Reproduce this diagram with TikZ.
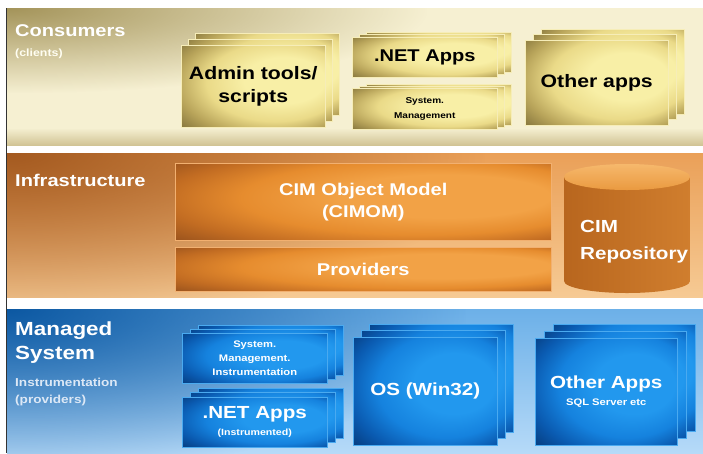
\documentclass[tikz,border=0pt]{standalone}
\usepackage{fontspec}
\setmainfont{Liberation Sans}[FakeStretch=1.18]
\usetikzlibrary{fadings}

% palette
\definecolor{yA}{HTML}{F8EFA6}
\definecolor{yB}{HTML}{EADA88}
\definecolor{yC}{HTML}{B8A45A}
\definecolor{yD}{HTML}{6E5F2E}
\definecolor{yEdge}{HTML}{F6EDB8}
\definecolor{bA}{HTML}{2298EE}
\definecolor{bB}{HTML}{1582DE}
\definecolor{bC}{HTML}{0A5AB0}
\definecolor{bD}{HTML}{042E66}
\definecolor{bEdge}{HTML}{4AAAF0}
\definecolor{oA}{HTML}{F2A246}
\definecolor{oB}{HTML}{E68C2E}
\definecolor{oC}{HTML}{C26C22}
\definecolor{oD}{HTML}{86461A}
\definecolor{oEdge}{HTML}{F2B070}
\definecolor{consBase}{HTML}{F6F0D2}
\definecolor{consDark}{HTML}{A4945A}
\definecolor{consLine}{HTML}{C6B682}
\definecolor{infTop}{HTML}{EAA058}
\definecolor{infBot}{HTML}{F6CA94}
\definecolor{infDark}{HTML}{A45A20}
\definecolor{manTop}{HTML}{6CB0E8}
\definecolor{manBot}{HTML}{B6DAF8}
\definecolor{manDark}{HTML}{0C58A2}
\definecolor{cylL}{HTML}{B8661E}
\definecolor{cylM}{HTML}{F0A24C}
\definecolor{cylR}{HTML}{D07E2E}
\definecolor{cylT}{HTML}{F6B86C}
\definecolor{cylB}{HTML}{EA9A40}
\definecolor{subText}{HTML}{DCE8F6}

% box shadings: bright spot right of centre, dark towards the left and the upper left corner
\pgfdeclareradialshading{yellowbox}{\pgfpoint{15bp}{5bp}}{color(0bp)=(yA); color(14bp)=(yA); color(24bp)=(yB); color(32bp)=(yC); color(42bp)=(yD); color(50bp)=(yD)}
\pgfdeclareradialshading{bluebox}{\pgfpoint{14bp}{5bp}}{color(0bp)=(bA); color(14bp)=(bA); color(24bp)=(bB); color(32bp)=(bC); color(42bp)=(bD); color(50bp)=(bD)}
\pgfdeclareradialshading{orangebox}{\pgfpoint{15bp}{5bp}}{color(0bp)=(oA); color(14bp)=(oA); color(24bp)=(oB); color(32bp)=(oC); color(42bp)=(oD); color(50bp)=(oD)}

\tikzfading[name=fadeup, top color=transparent!100, bottom color=transparent!20]
\tikzfading[name=blob, inner color=transparent!0, outer color=transparent!100]

% two layers behind a front box: #1 style, #2 x1, #3 y1, #4 x2, #5 y2, #6 dx, #7 dy (upwards)
\newcommand{\backlayers}[7]{%
  \path[#1] ({#2+2*#6},{#3-2*#7}) rectangle ({#4+2*#6},{#5-2*#7});
  \path[#1] ({#2+#6},{#3-#7}) rectangle ({#4+#6},{#5-#7});
}
% darker glow in the upper left corner of a band: #1 colour, #2 top, #3 bottom, #4 half width, #5 half height
\newcommand{\cornerglow}[5]{%
  \begin{scope}
    \clip (7,#2) rectangle (703,#3);
    \fill[#1, path fading=blob] ({7-#4},{#2-#5}) rectangle ({7+#4},{#2+#5});
  \end{scope}
}

\begin{document}
\begin{tikzpicture}[x=1pt,y=-1pt,
  ybox/.style={shade, shading=yellowbox, draw=yEdge, line width=0.5pt},
  bbox/.style={shade, shading=bluebox, draw=bEdge, line width=0.5pt},
  obox/.style={shade, shading=orangebox, draw=oEdge, line width=0.5pt},
  boxtext/.style={inner sep=0pt, align=center, font=\bfseries},
  bandlbl/.style={inner sep=0pt, anchor=west, align=left, text=white, font=\bfseries},
]
\useasboundingbox (0,0) rectangle (703,453);
\fill[white] (0,0) rectangle (703,453);

% ---- three bands ----
\fill[consBase] (7,8) rectangle (703,146);
\cornerglow{consDark}{8}{146}{420}{85}
\fill[consLine, path fading=fadeup] (7,128) rectangle (703,146);

\path[shade, top color=infTop, bottom color=infBot] (7,153) rectangle (703,297);
\cornerglow{infDark}{153}{297}{480}{170}

\path[shade, top color=manTop, bottom color=manBot] (7,309) rectangle (703,453);
\cornerglow{manDark}{309}{453}{460}{165}

\draw[black!80, line width=0.9pt] (6.5,8) -- (6.5,453);

% ---- band titles ----
\node[bandlbl, font=\bfseries\fontsize{17}{20}\selectfont] (consumers) at (15,31) {Consumers};
\node[bandlbl, font=\bfseries\fontsize{10.5}{12}\selectfont, text=white!95!yellow] (clients) at (15,54) {(clients)};
\node[bandlbl, font=\bfseries\fontsize{17}{20}\selectfont] (infra) at (15,180) {Infrastructure};
\node[bandlbl, font=\bfseries\fontsize{19}{24}\selectfont] (managed) at (15,343) {Managed\\System};
\node[bandlbl, font=\bfseries\fontsize{11.5}{17}\selectfont, text=subText] (instr) at (15,392) {Instrumentation\\(providers)};

% ---- consumers ----
\backlayers{ybox}{181}{45}{325}{127}{7}{6}
\node[ybox, boxtext, anchor=north west, minimum width=144, minimum height=82,
  font=\bfseries\fontsize{18}{23}\selectfont] (admin) at (181,45) {Admin tools/\\scripts};

\backlayers{ybox}{352}{37}{497}{77}{7}{2.5}
\node[ybox, boxtext, anchor=north west, minimum width=145, minimum height=40,
  font=\bfseries\fontsize{17}{20}\selectfont] (netapps) at (352,37) {.NET Apps};

\backlayers{ybox}{352}{88}{497}{129}{7}{2}
\node[ybox, boxtext, anchor=north west, minimum width=145, minimum height=41,
  font=\bfseries\fontsize{8.5}{15}\selectfont] (sysmgmt) at (352,88) {System.\\Management};

\backlayers{ybox}{525}{40}{668}{125}{8}{5.5}
\node[ybox, boxtext, anchor=north west, minimum width=143, minimum height=85,
  font=\bfseries\fontsize{18}{22}\selectfont] (otherapps) at (525,40) {Other apps};

% ---- infrastructure ----
\node[obox, boxtext, anchor=north west, minimum width=376, minimum height=77, text=white,
  font=\bfseries\fontsize{17}{22}\selectfont] (cimom) at (175,163) {CIM Object Model\\(CIMOM)};
\node[obox, boxtext, anchor=north west, minimum width=376, minimum height=44, text=white,
  font=\bfseries\fontsize{17}{20}\selectfont] (providers) at (175,247) {Providers};

% repository cylinder
\path[shade, left color=cylL, middle color=cylM, right color=cylR]
  (564,177) -- (564,281) arc[start angle=180, end angle=0, x radius=63, y radius=12]
  -- (690,177) -- cycle;
\path[shade, top color=cylT, bottom color=cylB] (627,177) ellipse[x radius=63, y radius=13];
\node[boxtext, anchor=west, align=left, text=white,
  font=\bfseries\fontsize{17.5}{27}\selectfont] (repo) at (580,242) {CIM\\Repository};

% ---- managed system ----
\backlayers{bbox}{182}{333}{327}{383}{8}{4}
\node[bbox, boxtext, anchor=north west, minimum width=145, minimum height=50, text=white,
  font=\bfseries\fontsize{9.5}{14}\selectfont] (smi) at (182,333) {System.\\Management.\\Instrumentation};

\backlayers{bbox}{182}{397}{327}{447}{8}{4.5}
\node[bbox, boxtext, anchor=north west, minimum width=145, minimum height=50, text=white,
  font=\bfseries\fontsize{17.5}{18}\selectfont] (netinstr) at (182,397)
  {.NET Apps\\[-1pt]{\fontsize{9}{11}\selectfont (Instrumented)}};

\backlayers{bbox}{353}{337}{497}{445}{8}{6.5}
\node[bbox, boxtext, anchor=north west, minimum width=144, minimum height=108, text=white,
  font=\bfseries\fontsize{17.5}{20}\selectfont] (os) at (353,337) {OS (Win32)};

\backlayers{bbox}{535}{338}{677}{445}{9}{7}
\node[bbox, boxtext, anchor=north west, minimum width=142, minimum height=107, text=white,
  font=\bfseries\fontsize{17.5}{18}\selectfont] (otherm) at (535,338)
  {Other Apps\\[-1pt]{\fontsize{9.5}{11}\selectfont SQL Server etc}};
\end{tikzpicture}
\end{document}
